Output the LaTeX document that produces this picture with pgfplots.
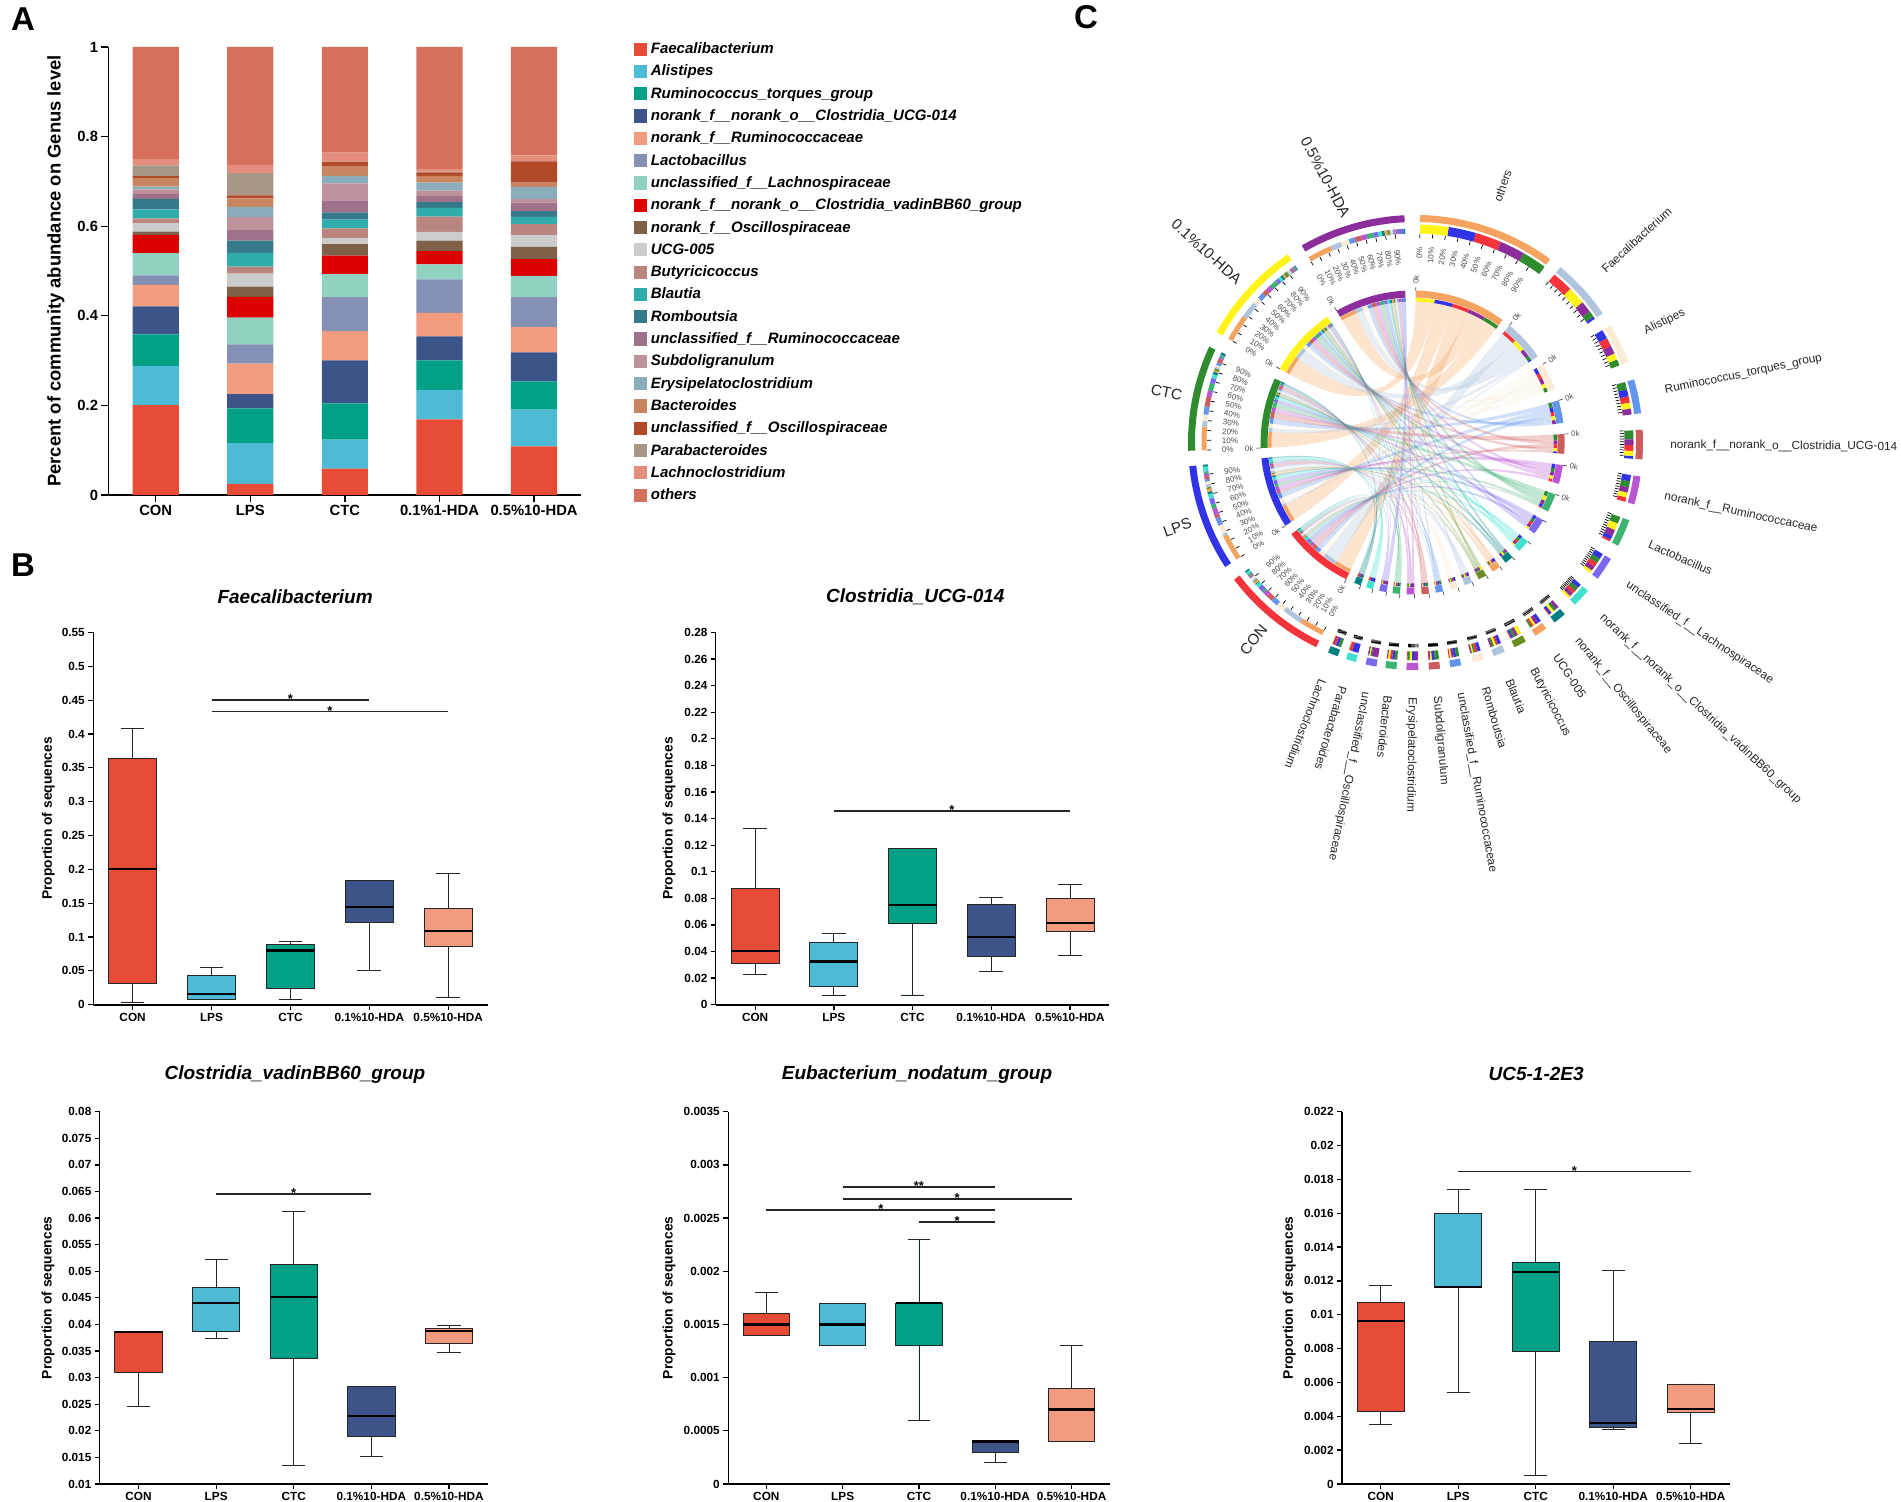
\documentclass[border=0pt]{standalone}
\usepackage{fontspec}
\setmainfont{Liberation Sans}
\usepackage{pgfplots}
\usepackage{pgfplotstable}
\pgfplotsset{compat=1.18}
\usepgfplotslibrary{statistics}

\definecolor{cFae}{HTML}{E64B35}\definecolor{cAli}{HTML}{4DBBD5}\definecolor{cRum}{HTML}{00A087}
\definecolor{cCud}{HTML}{3C5488}\definecolor{cRcc}{HTML}{F39B7F}\definecolor{cLac}{HTML}{8491B4}
\definecolor{cLno}{HTML}{91D1C2}\definecolor{cVad}{HTML}{DC0000}\definecolor{cOsc}{HTML}{7E6148}
\definecolor{cUcg}{HTML}{CCCCCC}\definecolor{cBut}{HTML}{B8867F}\definecolor{cBla}{HTML}{30ADAB}
\definecolor{cRom}{HTML}{36798A}\definecolor{cUru}{HTML}{A0728A}\definecolor{cSub}{HTML}{BE929B}
\definecolor{cEry}{HTML}{8AADBC}\definecolor{cBac}{HTML}{C98560}\definecolor{cUos}{HTML}{B24A2A}
\definecolor{cPar}{HTML}{A89686}\definecolor{cLcl}{HTML}{E58E7C}\definecolor{cOth}{HTML}{D4705C}
% chord colours
\definecolor{hc1}{HTML}{F4333A}\definecolor{hc2}{HTML}{3333E6}\definecolor{hc3}{HTML}{2E8B2E}
\definecolor{hc4}{HTML}{FFF31A}\definecolor{hc5}{HTML}{8B2D9B}
\definecolor{gc1}{HTML}{F4A460}\definecolor{gc2}{HTML}{B0C4DE}\definecolor{gc3}{HTML}{FAEBD7}
\definecolor{gc4}{HTML}{6495ED}\definecolor{gc5}{HTML}{CD5C5C}\definecolor{gc6}{HTML}{BA55D3}
\definecolor{gc7}{HTML}{3CB371}\definecolor{gc8}{HTML}{7B68EE}\definecolor{gc9}{HTML}{40E0D0}
\definecolor{gc10}{HTML}{008080}\definecolor{gc11}{HTML}{F4A460}\definecolor{gc12}{HTML}{6B8E23}
\definecolor{gc13}{HTML}{B0C4DE}\definecolor{gc14}{HTML}{FAEBD7}\definecolor{gc15}{HTML}{6495ED}
\definecolor{gc16}{HTML}{CD5C5C}\definecolor{gc17}{HTML}{BA55D3}\definecolor{gc18}{HTML}{3CB371}
\definecolor{gc19}{HTML}{7B68EE}\definecolor{gc20}{HTML}{40E0D0}\definecolor{gc21}{HTML}{008080}

\pgfplotstableread{
pos Fae Ali Rum Cud Rcc Lac Lno Vad Osc Ucg But Bla Rom Uru Sub Ery Bac Uos Par Lcl Oth
0 0.2005 0.0875 0.0705 0.0625 0.048 0.021 0.05 0.04 0.008 0.019 0.0106 0.02 0.0234 0.011 0.01 0.0065 0.0185 0.0046 0.0239 0.0139 0.2506
1 0.0247 0.091 0.0778 0.0315 0.068 0.043 0.06 0.046 0.023 0.029 0.0156 0.0309 0.0275 0.023 0.029 0.023 0.019 0.007 0.05 0.018 0.263
2 0.0586 0.0648 0.0809 0.0964 0.0648 0.0763 0.0509 0.0416 0.0254 0.0139 0.0216 0.0193 0.0162 0.027 0.0378 0.0169 0.0216 0.0093 0.0007 0.02 0.236
3 0.1689 0.0655 0.0663 0.0532 0.0524 0.0748 0.0339 0.0293 0.0232 0.02 0.0339 0.0193 0.0131 0.0139 0.0116 0.0177 0.0154 0.0077 0.0016 0.0061 0.2722
4 0.1087 0.0817 0.0633 0.0647 0.0563 0.0671 0.047 0.0378 0.027 0.0262 0.0247 0.0162 0.0131 0.0185 0.0085 0.0269 0.0093 0.0478 0.0012 0.0119 0.2421
}\tA

\newcommand\setcs[2]{\expandafter\xdef\csname #1\endcsname{#2}}
\newcommand\getcs[1]{\csname #1\endcsname}
\newcommand\sbar[2]{\addplot[fill=c#1,draw=none] table[x=pos,y=#1]{\tA};\addlegendentry{#2}}
\newcommand\bx[7]{\addplot[boxplot prepared={draw direction=y,draw position=#1,lower whisker=#3,lower quartile=#4,median=#5,upper quartile=#6,upper whisker=#7,box extend=0.61,whisker extend=0.3},fill=#2,draw=black!85,line width=.45pt,solid] coordinates {};}
\newcommand\sig[5]{\addplot[black!85,line width=.75pt,forget plot] coordinates {(#1,#3)(#2,#3)};\node[font=\bfseries\fontsize{6.5}{7}\selectfont,inner sep=0pt] at (axis cs:#4,#3) {\raisebox{1pt}{#5}};}
\newcommand\ringseg[5]{\fill[#5] (#1:#3) arc[start angle=#1,end angle=#2,radius=#3] -- (#2:#4) arc[start angle=#2,end angle=#1,radius=#4] -- cycle;}

\pgfplotsset{
  base/.style={
    scale only axis,anchor=south west,axis lines=left,axis line style={-,line width=.65pt},
    x axis line style={-,line width=1pt},
    tick align=outside,major tick length=2.5pt,every tick/.style={black,line width=.65pt},
    tick label style={font=\bfseries\fontsize{5.9}{7}\selectfont,inner sep=1.5pt},
    xmin=-0.5,xmax=4.5,xtick={0,1,2,3,4},scaled y ticks=false,
    /pgf/number format/.cd,fixed,precision=4,assume math mode=true,/pgfplots/.cd,
    boxplot/every median/.style={line width=1.1pt,black},
    every axis title shift=0pt,
    clip=false},
  bbox/.style n args={3}{base,
    ylabel={Proportion of sequences},
    ylabel style={at={(axis description cs:#1,0.5)},anchor=center,font=\bfseries\fontsize{6.9}{8}\selectfont},
    title style={at={(axis description cs:#2,#3)},anchor=center,font=\bfseries\itshape\fontsize{9.5}{10}\selectfont}}
}

% values for the chord
\foreach \g/\c in {1/Oth,2/Fae,3/Ali,4/Rum,5/Cud,6/Rcc,7/Lac,8/Lno,9/Vad,10/Osc,11/Ucg,12/But,13/Bla,14/Rom,15/Uru,16/Sub,17/Ery,18/Bac,19/Uos,20/Par,21/Lcl}{
  \foreach \h in {1,...,5}{
    \pgfmathtruncatemacro\r{\h-1}
    \pgfplotstablegetelem{\r}{\c}\of\tA
    \setcs{v\g-\h}{\pgfplotsretval}
  }
}
% group sectors: start and end angle
\foreach \h/\a/\b in {1/-115.9/-142.9,2/-146.8/-174,3/-177.9/-204.9,4/-209/-235.8,5/-240/-267.2}{
  \setcs{ga\h}{\a}\setcs{gb\h}{\b}
  \gdef\cum{0}
  \foreach \g in {1,...,21}{
    \edef\tmp{\getcs{v\g-\h}}
    \pgfmathsetmacro\nn{\cum+\tmp}
    \pgfmathsetmacro\s{\a+(\b-\a)*\cum}
    \pgfmathsetmacro\e{\a+(\b-\a)*\nn}
    \setcs{gs\g-\h}{\s}\setcs{ge\g-\h}{\e}
    \global\let\cum\nn
  }
}
% genus sectors: start and end angle, then groups by abundance
\foreach \g/\a/\b/\ca/\cb/\cc/\cd/\ce in {1/88.8/53.7/4/2/1/5/3,2/50.4/34.6/1/4/5/3/2,3/31/20.7/2/1/5/4/3,4/16.1/7.4/3/2/1/4/5,5/3.2/-4.3/3/5/1/4/2,6/-8.6/-15.8/2/3/5/4/1,7/-20/-27/3/4/5/2/1,8/-30.8/-36.8/2/3/1/5/4,9/-40.7/-45.5/2/3/1/5/4,10/-49/-52.3/5/3/4/2/1,11/-54.9/-58.2/2/5/4/1/3,12/-61/-64.2/4/5/3/2/1,13/-66.9/-69.9/2/1/4/3/5,14/-72.6/-75.4/2/1/3/4/5,15/-78.4/-81.2/3/2/5/4/1,16/-83.8/-86.6/3/2/4/1/5,17/-89.3/-92.3/5/2/4/3/1,18/-94.8/-97.6/3/2/1/4/5,19/-99.9/-102.7/5/3/4/2/1,20/-105.2/-107.8/2/1/4/5/3,21/-110/-112.6/3/2/1/5/4}{
  \setcs{ka\g}{\a}\setcs{kb\g}{\b}
  \edef\va{\getcs{v\g-1}}\edef\vb{\getcs{v\g-2}}\edef\vc{\getcs{v\g-3}}\edef\vd{\getcs{v\g-4}}\edef\ve{\getcs{v\g-5}}
  \pgfmathsetmacro\tot{\va+\vb+\vc+\vd+\ve}
  \gdef\cum{0}
  \foreach \h in {\ca,\cb,\cc,\cd,\ce}{
    \edef\tmp{\getcs{v\g-\h}}
    \pgfmathsetmacro\nn{\cum+\tmp}
    \pgfmathsetmacro\s{\a+(\b-\a)*\cum/\tot}
    \pgfmathsetmacro\e{\a+(\b-\a)*\nn/\tot}
    \setcs{ks\g-\h}{\s}\setcs{ke\g-\h}{\e}
    \global\let\cum\nn
  }
}

\begin{document}
\begin{tikzpicture}
\path[use as bounding box] (0,0) rectangle (950.5pt,751pt);

\node[font=\bfseries\fontsize{16.5}{18}\selectfont] at (11.5pt,741.5pt) {A};
\node[font=\bfseries\fontsize{16.5}{18}\selectfont] at (11.5pt,468.5pt) {B};
\node[font=\bfseries\fontsize{16.5}{18}\selectfont] at (543pt,742.5pt) {C};

% ---------- A
\begin{axis}[base,at={(54.2pt,503.5pt)},width=236.5pt,height=224pt,
  ybar stacked,bar width=23.1pt,ymin=0,ymax=1,
  ytick={0,0.2,0.4,0.6,0.8,1},
  xticklabels={CON,LPS,CTC,0.1\%1-HDA,0.5\%10-HDA},
  tick label style={font=\bfseries\fontsize{7.4}{9}\selectfont},
  major tick length=3.5pt,
  ylabel={Percent of community abundance on Genus level},
  ylabel style={at={(axis description cs:-0.111,0.5)},anchor=center,font=\bfseries\fontsize{9.2}{10}\selectfont},
  legend image code/.code={\fill[#1] (0.3pt,-3.3pt) rectangle (6.9pt,3.3pt);},
  legend cell align=left,
  legend style={at={(axis description cs:1.11,1.015)},anchor=north west,draw=none,fill=none,
    font=\bfseries\itshape\fontsize{7.52}{9}\selectfont,
    row sep=2.65pt,inner sep=0pt,
    nodes={inner ysep=0pt,inner xsep=1.9pt,text height=6.5pt,text depth=2pt}},
]
\sbar{Fae}{Faecalibacterium}
\sbar{Ali}{Alistipes}
\sbar{Rum}{Ruminococcus\_torques\_group}
\sbar{Cud}{norank\_f\_\_norank\_o\_\_Clostridia\_UCG-014}
\sbar{Rcc}{norank\_f\_\_Ruminococcaceae}
\sbar{Lac}{Lactobacillus}
\sbar{Lno}{unclassified\_f\_\_Lachnospiraceae}
\sbar{Vad}{norank\_f\_\_norank\_o\_\_Clostridia\_vadinBB60\_group}
\sbar{Osc}{norank\_f\_\_Oscillospiraceae}
\sbar{Ucg}{UCG-005}
\sbar{But}{Butyricicoccus}
\sbar{Bla}{Blautia}
\sbar{Rom}{Romboutsia}
\sbar{Uru}{unclassified\_f\_\_Ruminococcaceae}
\sbar{Sub}{Subdoligranulum}
\sbar{Ery}{Erysipelatoclostridium}
\sbar{Bac}{Bacteroides}
\sbar{Uos}{unclassified\_f\_\_Oscillospiraceae}
\sbar{Par}{Parabacteroides}
\sbar{Lcl}{Lachnoclostridium}
\sbar{Oth}{others}
\end{axis}

% ---------- B1
\begin{axis}[bbox={-0.114}{0.512}{1.095},at={(46.58pt,248.65pt)},width=197.25pt,height=186.1pt,
  title={Faecalibacterium},ymin=0,ymax=0.55,
  ytick={0,0.05,0.1,0.15,0.2,0.25,0.3,0.35,0.4,0.45,0.5,0.55},
  xticklabels={CON,LPS,CTC,0.1\%10-HDA,0.5\%10-HDA}]
\bx{0}{cFae}{0.004}{0.0312}{0.2003}{0.3635}{0.408}
\bx{1}{cAli}{0.0074}{0.0074}{0.0153}{0.0435}{0.0549}
\bx{2}{cRum}{0.0074}{0.0247}{0.080}{0.089}{0.0935}
\bx{3}{cCud}{0.0509}{0.1217}{0.1444}{0.184}{0.184}
\bx{4}{cRcc}{0.0114}{0.0856}{0.1083}{0.1424}{0.1939}
\sig{1}{3}{0.45}{2}{*}
\sig{1}{4}{0.433}{2.5}{*}
\end{axis}

% ---------- B2
\begin{axis}[bbox={-0.119}{0.507}{1.095},at={(357.9pt,248.65pt)},width=196.75pt,height=186.1pt,
  title={Clostridia\_UCG-014},ymin=0,ymax=0.28,
  ytick={0,0.02,0.04,0.06,0.08,0.1,0.12,0.14,0.16,0.18,0.2,0.22,0.24,0.26,0.28},
  xticklabels={CON,LPS,CTC,0.1\%10-HDA,0.5\%10-HDA}]
\bx{0}{cFae}{0.0229}{0.0307}{0.0405}{0.0874}{0.1327}
\bx{1}{cAli}{0.0068}{0.0139}{0.0325}{0.0468}{0.0539}
\bx{2}{cRum}{0.0073}{0.0612}{0.0748}{0.1176}{0.1176}
\bx{3}{cCud}{0.0247}{0.0363}{0.0509}{0.0753}{0.0806}
\bx{4}{cRcc}{0.037}{0.0551}{0.0614}{0.0796}{0.0907}
\sig{1}{4}{0.1458}{2.5}{*}
\end{axis}

% ---------- B3
\begin{axis}[bbox={-0.133}{0.503}{1.101},at={(49.88pt,9pt)},width=194pt,height=186.15pt,
  title={Clostridia\_vadinBB60\_group},ymin=0.01,ymax=0.08,
  ytick={0.01,0.015,0.02,0.025,0.03,0.035,0.04,0.045,0.05,0.055,0.06,0.065,0.07,0.075,0.08},
  xticklabels={CON,LPS,CTC,0.1\%10-HDA,0.5\%10-HDA}]
\bx{0}{cFae}{0.0245}{0.0309}{0.0386}{0.0386}{0.0386}
\bx{1}{cAli}{0.0374}{0.0387}{0.0441}{0.0470}{0.0523}
\bx{2}{cRum}{0.0135}{0.0336}{0.0452}{0.0513}{0.0613}
\bx{3}{cCud}{0.0151}{0.0189}{0.0228}{0.0283}{0.0283}
\bx{4}{cRcc}{0.0348}{0.0364}{0.0388}{0.0393}{0.0399}
\sig{1}{3}{0.0645}{2}{*}
\end{axis}

% ---------- B4
\begin{axis}[bbox={-0.155}{0.495}{1.101},at={(364.1pt,9pt)},width=190.75pt,height=186.15pt,
  title={Eubacterium\_nodatum\_group},ymin=0,ymax=0.0035,
  ytick={0,0.0005,0.001,0.0015,0.002,0.0025,0.003,0.0035},
  xticklabels={CON,LPS,CTC,0.1\%10-HDA,0.5\%10-HDA}]
\bx{0}{cFae}{0.0014}{0.0014}{0.0015}{0.0016}{0.0018}
\bx{1}{cAli}{0.0013}{0.0013}{0.0015}{0.0017}{0.0017}
\bx{2}{cRum}{0.0006}{0.0013}{0.0017}{0.0017}{0.0023}
\bx{3}{cCud}{0.0002}{0.0003}{0.0004}{0.0004}{0.0004}
\bx{4}{cRcc}{0.0004}{0.0004}{0.0007}{0.0009}{0.0013}
\sig{1}{3}{0.00279}{2}{**}
\sig{1}{4}{0.00268}{2.5}{*}
\sig{0}{3}{0.002575}{1.5}{*}
\sig{2}{3}{0.002465}{2.5}{*}
\end{axis}

% ---------- B5
\begin{axis}[bbox={-0.136}{0.501}{1.101},at={(671pt,9pt)},width=193.75pt,height=186.15pt,
  title={UC5-1-2E3},ymin=0,ymax=0.022,
  ytick={0,0.002,0.004,0.006,0.008,0.01,0.012,0.014,0.016,0.018,0.02,0.022},
  xticklabels={CON,LPS,CTC,0.1\%10-HDA,0.5\%10-HDA}]
\bx{0}{cFae}{0.00352}{0.00431}{0.00961}{0.01071}{0.01174}
\bx{1}{cAli}{0.00542}{0.01162}{0.01162}{0.01601}{0.01743}
\bx{2}{cRum}{0.00051}{0.00783}{0.01253}{0.01311}{0.01743}
\bx{3}{cCud}{0.0032}{0.00332}{0.00362}{0.00842}{0.01263}
\bx{4}{cRcc}{0.00241}{0.00423}{0.00443}{0.00591}{0.00591}
\sig{1}{4}{0.01846}{2.5}{*}
\end{axis}

% ---------- C: chord diagram, one data unit is one pixel of the reference
\begin{axis}[at={(530pt,311pt)},anchor=south west,scale only axis,width=420.5pt,height=390pt,
  xmin=-355.5,xmax=485.5,ymin=-437.5,ymax=342.5,hide axis,clip=false]
\pgfplotsextra{
\begin{scope}[shift={(axis cs:0,0)},x=0.5pt,y=0.5pt]
 % inner part, whose centre lies a little to the left
 \begin{scope}[xshift=-1.45pt]
  % ribbons
  \foreach \g in {1,...,21}{
    \foreach \h in {1,...,5}{
      \edef\as{\getcs{ks\g-\h}}\edef\ae{\getcs{ke\g-\h}}
      \edef\bs{\getcs{gs\g-\h}}\edef\be{\getcs{ge\g-\h}}
      \fill[gc\g,fill opacity=0.3]
        (\as:141) arc[start angle=\as,end angle=\ae,radius=141]
        .. controls (\ae:48) and (\bs:48) .. (\bs:141)
        arc[start angle=\bs,end angle=\be,radius=141]
        .. controls (\be:48) and (\as:48) .. cycle;
    }
  }
  \foreach \g in {1,...,21}{
    \edef\a{\getcs{ka\g}}\edef\b{\getcs{kb\g}}
    \ringseg{\a}{\b}{152}{145}{gc\g}
    \foreach \h in {1,...,5}{
      \edef\s{\getcs{ks\g-\h}}\edef\e{\getcs{ke\g-\h}}
      \ringseg{\s}{\e}{144.5}{141}{hc\h}
    }
    \draw[black!70,line width=.35pt] (\a:152) -- (\a:156);
  }
  \foreach \h in {1,...,5}{
    \edef\a{\getcs{ga\h}}\edef\b{\getcs{gb\h}}
    \ringseg{\a}{\b}{152}{145}{hc\h}
    \foreach \g in {1,...,21}{
      \edef\s{\getcs{gs\g-\h}}\edef\e{\getcs{ge\g-\h}}
      \ringseg{\s}{\e}{144.5}{141}{gc\g}
    }
    \draw[black!70,line width=.35pt] (\a:152) -- (\a:156);
    \pgfmathsetmacro\ro{\a+180}
    \node[rotate=\ro,anchor=east,inner sep=0pt,text=black!70,font=\fontsize{3.9}{5}\selectfont] at (\a:159) {0k};
  }
  \foreach \g in {1,...,7}{
    \edef\a{\getcs{ka\g}}
    \node[rotate=\a,anchor=west,inner sep=0pt,text=black!70,font=\fontsize{3.9}{5}\selectfont] at (\a:158.5) {0k};
  }
 \end{scope}
  % genus sectors
  \foreach \g in {1,...,21}{
    \edef\a{\getcs{ka\g}}\edef\b{\getcs{kb\g}}
    \ringseg{\a}{\b}{227.5}{220.5}{gc\g}
    \foreach \h in {1,...,5}{
      \edef\s{\getcs{ks\g-\h}}\edef\e{\getcs{ke\g-\h}}
      \ringseg{\s}{\e}{218}{209}{hc\h}
    }
    \ifnum\g<10 \def\tka{208.5}\def\tkb{204.5}\else \def\tka{205}\def\tkb{201.5}\fi
    \foreach \k in {0,...,9}{
      \pgfmathsetmacro\t{\a+(\b-\a)*\k/10}
      \draw[black,line width=.35pt] (\t:\tka) -- (\t:\tkb);
    }
  }
  % group sectors
  \foreach \h in {1,...,5}{
    \edef\a{\getcs{ga\h}}\edef\b{\getcs{gb\h}}
    \ringseg{\a}{\b}{227.5}{220.5}{hc\h}
    \foreach \g in {1,...,21}{
      \edef\s{\getcs{gs\g-\h}}\edef\e{\getcs{ge\g-\h}}
      \ringseg{\s}{\e}{214}{209}{gc\g}
    }
    \foreach \k in {0,...,9}{
      \pgfmathsetmacro\t{\a+(\b-\a)*\k/10}
      \pgfmathsetmacro\ro{\t+180}
      \pgfmathtruncatemacro\pc{\k*10}
      \draw[black,line width=.35pt] (\t:208.5) -- (\t:204.5);
      \node[rotate=\ro,anchor=west,inner sep=0pt,text=black!70,font=\fontsize{4}{5}\selectfont] at (\t:194) {\pc\%};
    }
  }
  % percent labels of the others sector
  \foreach \k in {0,...,9}{
    \pgfmathsetmacro\t{88.8+(53.7-88.8)*\k/10}
    \pgfmathtruncatemacro\pc{\k*10}
    \node[rotate=\t,anchor=east,inner sep=0pt,text=black!70,font=\fontsize{4}{5}\selectfont] at (\t:196) {\pc\%};
  }
  % group names
  \foreach \h/\n in {1/CON,2/LPS,3/CTC,4/0.1\%10-HDA}{
    \edef\a{\getcs{ga\h}}\edef\b{\getcs{gb\h}}
    \pgfmathsetmacro\m{(\a+\b)/2}
    \pgfmathsetmacro\ro{\m+180}
    \node[rotate=\ro,anchor=east,inner sep=0pt,text=black!85,font=\fontsize{7.6}{9}\selectfont] at (\m:238) {\n};
  }
  \node[rotate=-62,anchor=east,inner sep=0pt,text=black!85,font=\fontsize{7.6}{9}\selectfont] at (107:236) {0.5\%10-HDA};
  % genus names
  \foreach \g/\n in {1/others,2/Faecalibacterium,3/Alistipes,4/Ruminococcus\_torques\_group,5/norank\_f\_\_norank\_o\_\_Clostridia\_UCG-014,6/norank\_f\_\_Ruminococcaceae,7/Lactobacillus,8/unclassified\_f\_\_Lachnospiraceae,9/norank\_f\_\_norank\_o\_\_Clostridia\_vadinBB60\_group,10/norank\_f\_\_Oscillospiraceae,11/UCG-005,12/Butyricicoccus,13/Blautia,14/Romboutsia,15/unclassified\_f\_\_Ruminococcaceae,16/Subdoligranulum,17/Erysipelatoclostridium,18/Bacteroides,19/unclassified\_f\_\_Oscillospiraceae,20/Parabacteroides,21/Lachnoclostridium}{
    \edef\a{\getcs{ka\g}}\edef\b{\getcs{kb\g}}
    \pgfmathsetmacro\m{(\a+\b)/2}
    \node[rotate=\m,anchor=west,inner sep=0pt,text=black!85,font=\fontsize{5.9}{7}\selectfont] at (\m:254.5) {\n};
  }
\end{scope}
}
\end{axis}
\end{tikzpicture}
\end{document}
